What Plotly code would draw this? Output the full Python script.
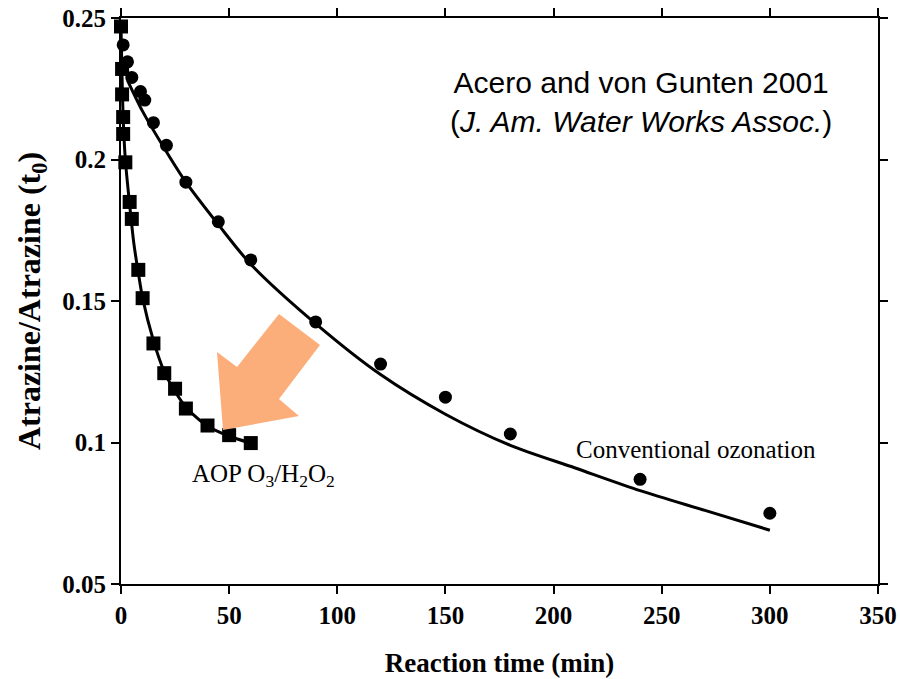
import plotly.graph_objects as go

# --- data ---
aop_time = [0, 0.5, 0.5, 1, 1, 2, 4, 5, 8, 10, 15, 20, 25, 30, 40, 50, 60]
aop_ratio = [0.247, 0.232, 0.223, 0.215, 0.209, 0.199, 0.185, 0.179, 0.161, 0.151,
             0.135, 0.1245, 0.119, 0.112, 0.106, 0.1026, 0.0998]

conv_time = [1, 3, 5, 9, 11, 15, 21, 30, 45, 60, 90, 120, 150, 180, 240, 300]
conv_ratio = [0.2405, 0.2345, 0.229, 0.224, 0.221, 0.213, 0.205, 0.192, 0.178, 0.1645,
              0.1426, 0.1277, 0.116, 0.103, 0.087, 0.075]

aop_fit_time = [0, 1, 2, 4, 6, 8, 10, 15, 20, 25, 30, 40, 50, 60]
aop_fit_ratio = [0.247, 0.215, 0.200, 0.184, 0.170, 0.160, 0.151, 0.136, 0.125, 0.118,
                 0.1125, 0.1058, 0.1022, 0.0998]

conv_fit_time = [3, 10, 20, 30, 45, 60, 90, 120, 150, 180, 210, 240, 270, 300]
conv_fit_ratio = [0.228, 0.217, 0.204, 0.192, 0.177, 0.163, 0.142, 0.124, 0.110, 0.099,
                  0.091, 0.083, 0.076, 0.069]

x_ticks = [0, 50, 100, 150, 200, 250, 300, 350]
y_ticks = [0.05, 0.1, 0.15, 0.2, 0.25]
y_tick_labels = ["0.05", "0.1", "0.15", "0.2", "0.25"]

SERIF = "Liberation Serif, Times New Roman, serif"
SANS = "Liberation Sans, Arial, sans-serif"

fig = go.Figure()

fig.add_trace(go.Scatter(x=aop_fit_time, y=aop_fit_ratio, mode="lines",
                         line=dict(color="black", width=3, shape="spline", smoothing=0.8),
                         showlegend=False, hoverinfo="skip", cliponaxis=False))
fig.add_trace(go.Scatter(x=conv_fit_time, y=conv_fit_ratio, mode="lines",
                         line=dict(color="black", width=3, shape="spline", smoothing=0.8),
                         showlegend=False, hoverinfo="skip", cliponaxis=False))
fig.add_trace(go.Scatter(x=aop_time, y=aop_ratio, mode="markers",
                         marker=dict(symbol="square", size=14, color="black"),
                         showlegend=False, cliponaxis=False))
fig.add_trace(go.Scatter(x=conv_time, y=conv_ratio, mode="markers",
                         marker=dict(symbol="circle", size=13, color="black"),
                         showlegend=False, cliponaxis=False))


# orange arrow (decoration), outlined in reference-image pixels and mapped to data space
def px_to_data(px, py):
    x = (px - 121) / (878 - 121) * 350
    y = 0.25 - (py - 18) / (584 - 18) * 0.20
    return x, y


arrow_px = [(279, 314), (320, 345), (279, 399), (299, 416), (223, 430), (217, 352), (237, 367)]
pts = [px_to_data(a, b) for a, b in arrow_px]
path = "M " + " L ".join(f"{x:.3f},{y:.5f}" for x, y in pts) + " Z"
fig.add_shape(type="path", path=path, xref="x", yref="y",
              fillcolor="#FCAE7A", line=dict(width=0), layer="above")

fig.add_annotation(x=240.5, y=0.2203, xref="x", yref="y",
                   text="Acero and von Gunten 2001<br>(<i>J. Am. Water Works Assoc.</i>)",
                   showarrow=False, align="center", xanchor="center", yanchor="middle",
                   font=dict(family=SANS, size=30, color="black"))
fig.add_annotation(x=266, y=0.0975, xref="x", yref="y",
                   text="Conventional ozonation", showarrow=False,
                   xanchor="center", yanchor="middle",
                   font=dict(family=SERIF, size=25, color="black"))
fig.add_annotation(x=66, y=0.0885, xref="x", yref="y",
                   text="AOP O<sub>3</sub>/H<sub>2</sub>O<sub>2</sub>", showarrow=False,
                   xanchor="center", yanchor="middle",
                   font=dict(family=SERIF, size=25, color="black"))

axis_common = dict(showline=True, linecolor="black", linewidth=2, mirror="ticks",
                   ticks="outside", ticklen=8, tickwidth=1.5, tickcolor="black",
                   showgrid=False, zeroline=False, automargin=False,
                   ticklabeloverflow="allow",
                   tickfont=dict(family=SERIF, size=25, color="black", weight="bold"))

fig.update_xaxes(range=[0, 350], tickvals=x_ticks, **axis_common,
                 title=dict(text="<b>Reaction time (min)</b>", standoff=25,
                            font=dict(family=SERIF, size=27, color="black")))
fig.update_yaxes(range=[0.05, 0.25], tickvals=y_ticks, ticktext=y_tick_labels, **axis_common,
                 title=dict(text="<b>Atrazine/Atrazine (t<sub>0</sub>)</b>", standoff=12,
                            font=dict(family=SERIF, size=32, color="black")))

fig.update_layout(width=900, height=679, margin=dict(l=121, r=22, t=18, b=95),
                  plot_bgcolor="white", paper_bgcolor="white")

fig.write_html("out.html", config={"displayModeBar": False},
               post_script="document.body.style.margin='0';document.body.style.overflow='hidden';")
